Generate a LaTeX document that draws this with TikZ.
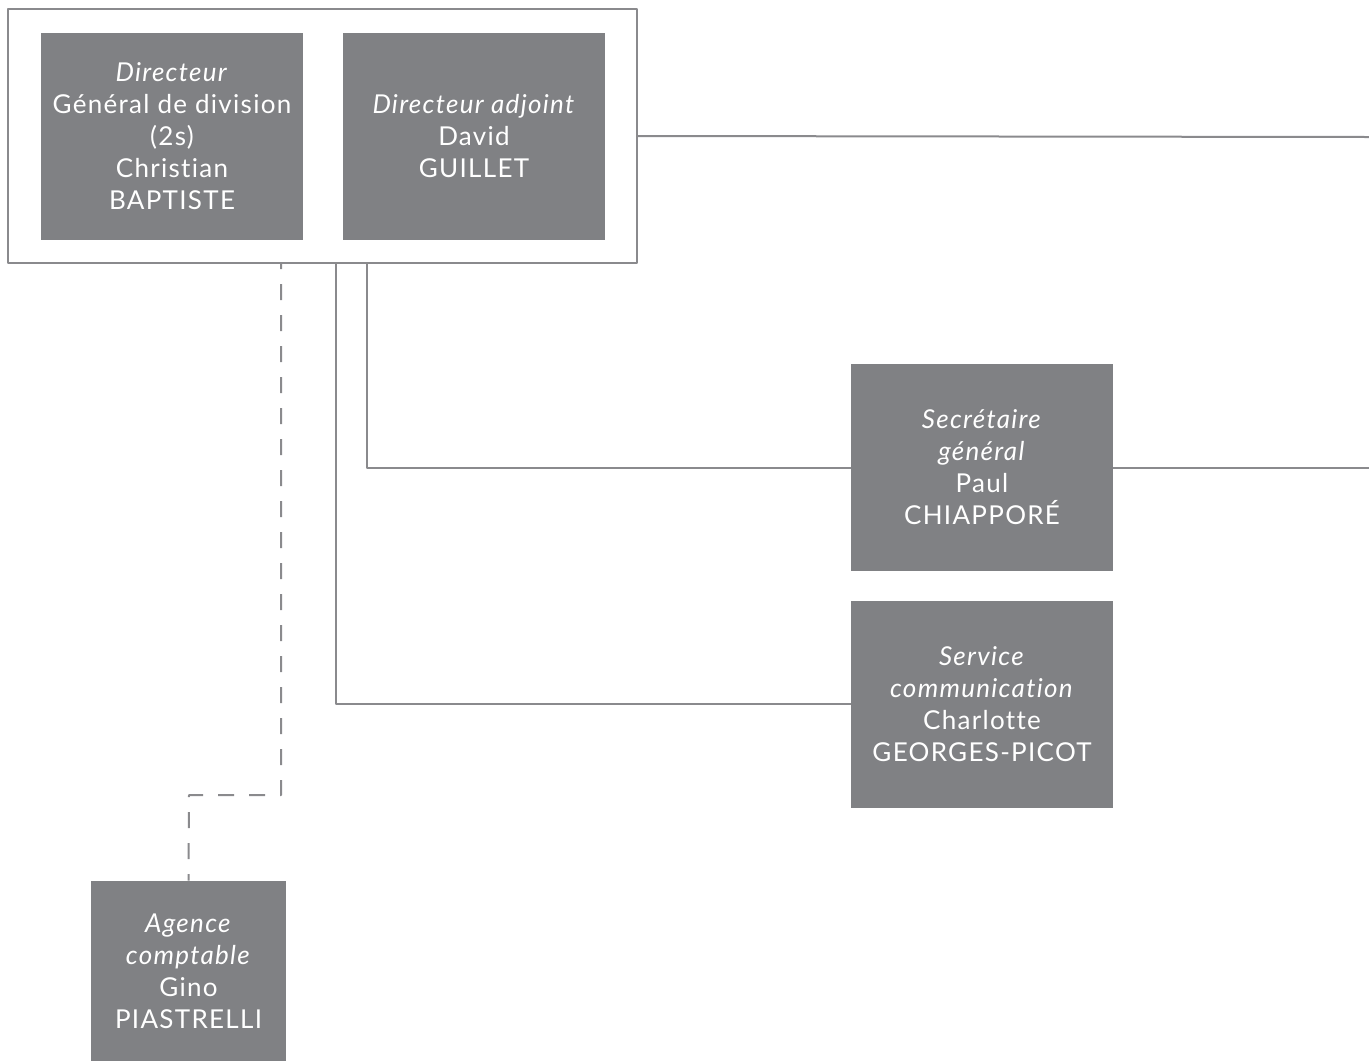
\documentclass[tikz,border=0pt]{standalone}
\usepackage{fontspec}
\setmainfont[Ligatures=NoCommon, LetterSpace=5]{Lato}
\definecolor{boxgray}{HTML}{808184}
\definecolor{linegray}{HTML}{8A8A8D}
\begin{document}
\begin{tikzpicture}[x=0.5pt, y=-0.5pt, font=\fontsize{13}{16}\selectfont, line join=round,
	poste/.style={fill=boxgray, text=white, align=center, inner sep=0pt, minimum width=131pt, minimum height=103.5pt},
	lien/.style={draw=linegray, line width=1pt}]
	\useasboundingbox (0,0) rectangle (1369,1061);
	% cadre de direction
	\node[draw=linegray, line width=1pt, fill=white, minimum width=314.5pt, minimum height=127pt, inner sep=0pt] (cadre) at (322.5,136) {};
	\node[poste] (dir) at (172,136.5) {\textit{Directeur}\\Général de division\\(2s)\\Christian\\BAPTISTE};
	\node[poste] (adj) at (474,136.5) {\textit{Directeur adjoint}\\David\\GUILLET};
	% services
	\node[poste] (sg) at (982,467.5) {\textit{Secrétaire}\\\textit{général}\\Paul\\CHIAPPORÉ};
	\node[poste] (com) at (982,704) {\textit{Service}\\\textit{communication}\\Charlotte\\GEORGES-PICOT};
	\node[poste, minimum width=97.5pt, minimum height=90pt] (agc) at (188.5,971) {\textit{Agence}\\\textit{comptable}\\Gino\\PIASTRELLI};
	% points de depart
	\coordinate (bordA) at (1369,137);
	\coordinate (bordB) at (1369,467.5);
	\coordinate (dA) at (367,263);
	\coordinate (dB) at (336,263);
	\coordinate (dC) at (281,263);
	\coordinate (pli) at (189,795);
	\draw[lien] (cadre.east) -- (bordA);
	\draw[lien] (dA) |- (sg.west);
	\draw[lien] (sg.east) -- (bordB);
	\draw[lien] (dB) |- (com.west);
	\draw[lien, dash pattern=on 8pt off 7.5pt, dash phase=5pt] (dC) |- (pli) -- (agc.north);
\end{tikzpicture}
\end{document}
